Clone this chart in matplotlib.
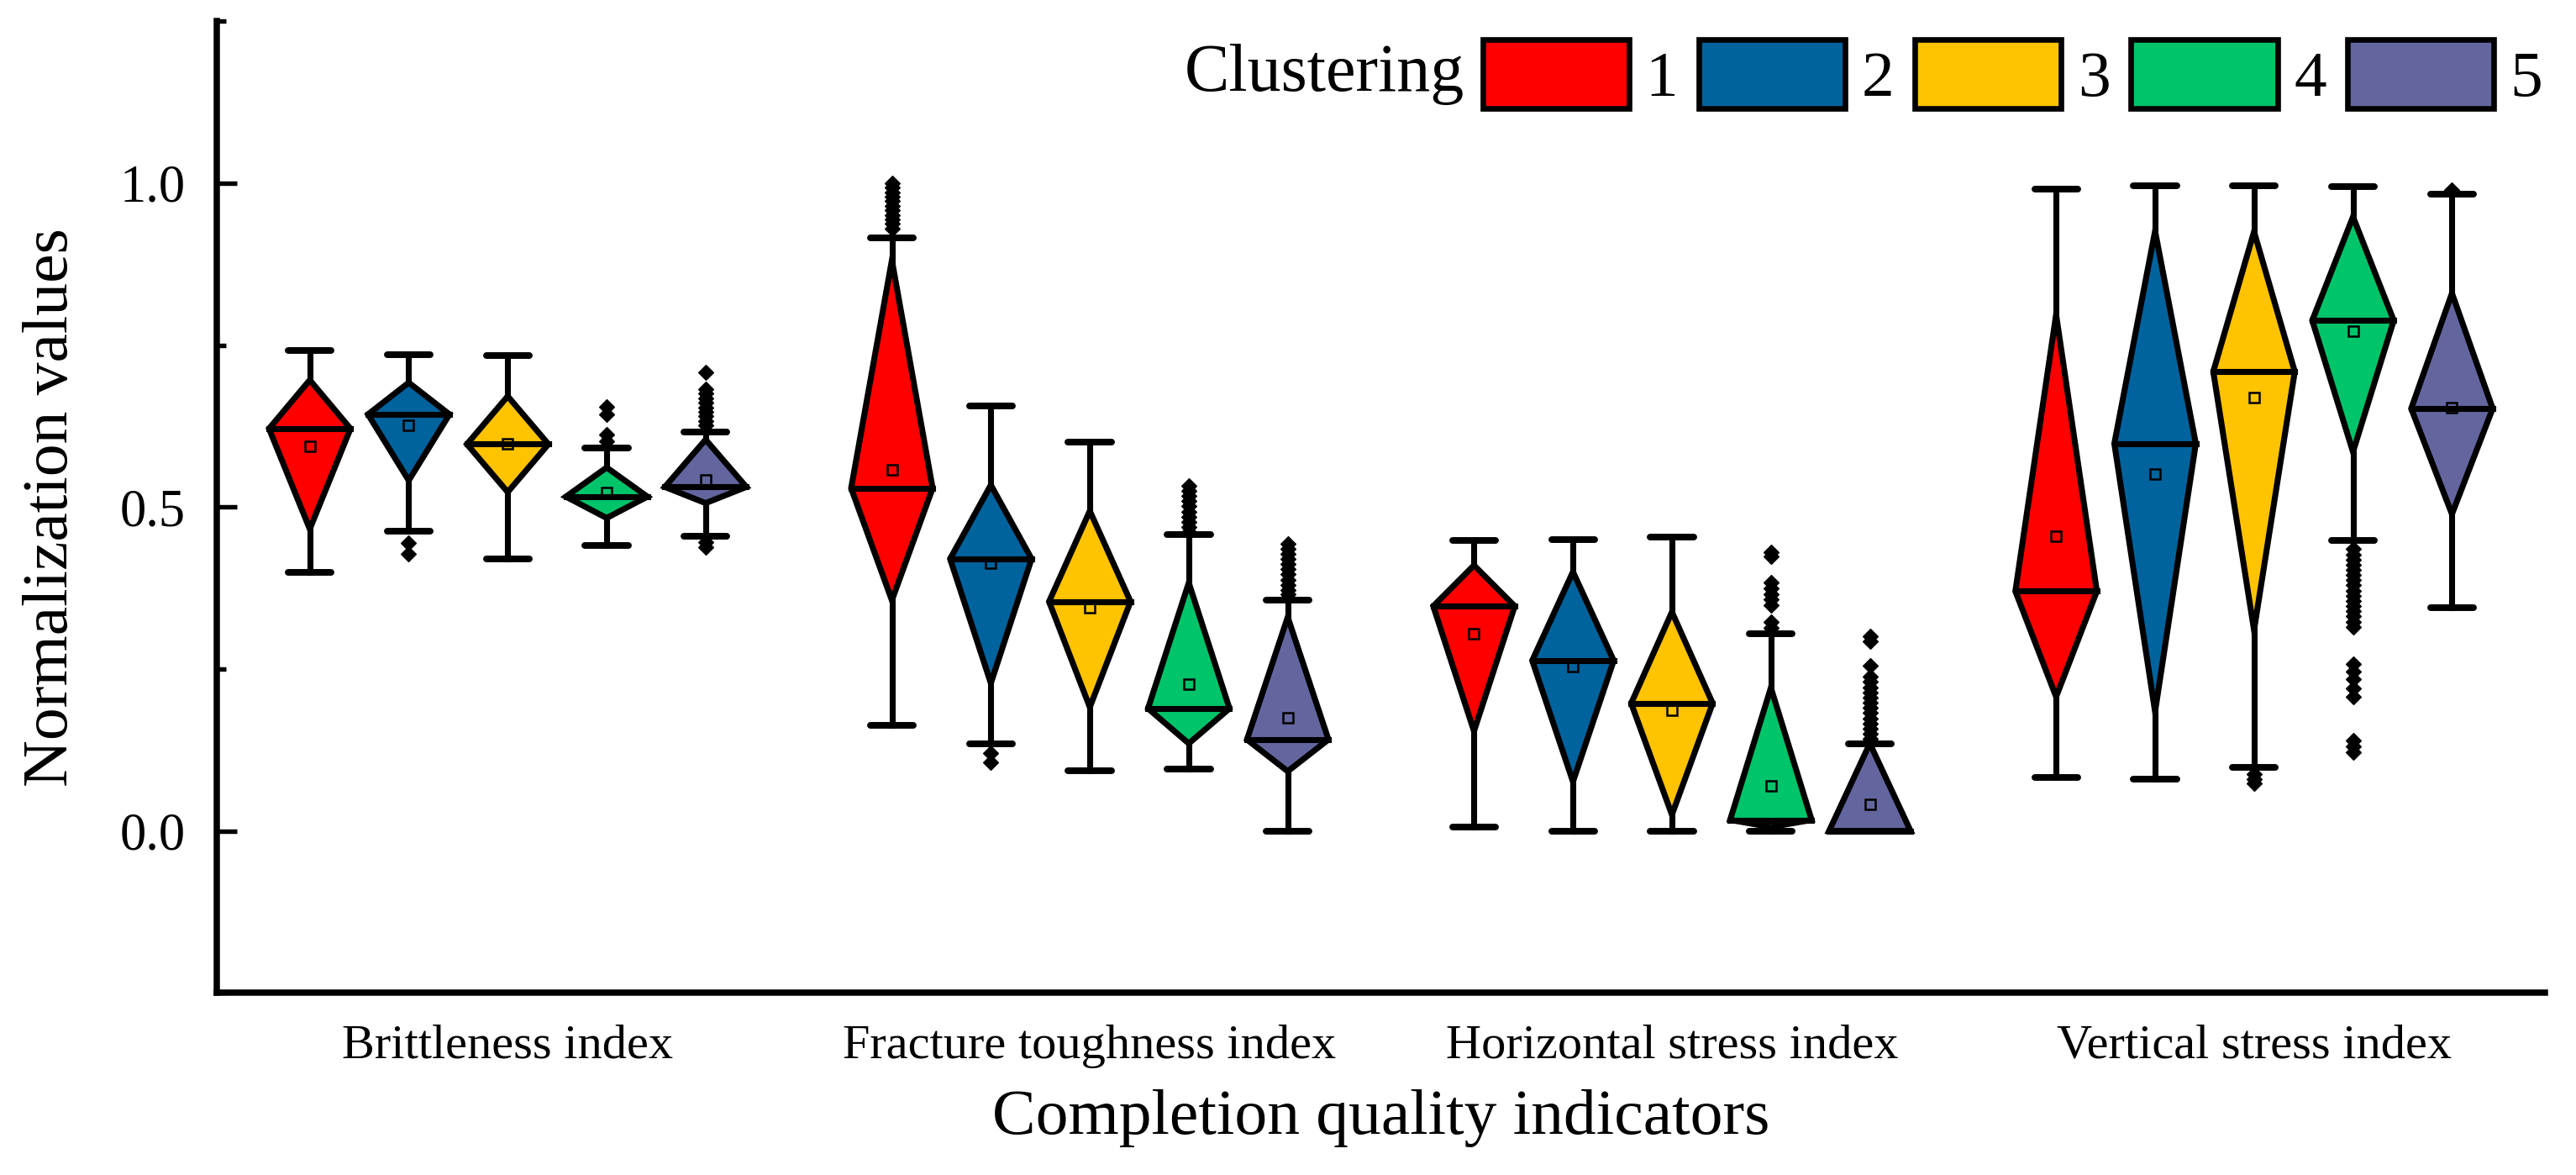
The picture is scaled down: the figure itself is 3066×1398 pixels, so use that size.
import numpy as np
import matplotlib
matplotlib.use('Agg')
import matplotlib.pyplot as plt
from matplotlib.patches import Polygon, Patch
from matplotlib.ticker import MultipleLocator

plt.rcParams['font.family'] = ['Liberation Serif', 'DejaVu Serif']

# categories / groups
indicators = ['Brittleness index', 'Fracture toughness index',
              'Horizontal stress index', 'Vertical stress index']
clusters = ['1', '2', '3', '4', '5']
colors = ['#FF0000', '#00639E', '#FFC300', '#00C46A', '#63669E']

# box statistics, one row per indicator, one column per cluster
whislo = [[0.399, 0.463, 0.420, 0.441, 0.455],
          [0.163, 0.135, 0.093, 0.095, 0.000],
          [0.006, 0.000, 0.000, 0.000, 0.000],
          [0.083, 0.080, 0.098, 0.448, 0.344]]
q1 = [[0.466, 0.541, 0.523, 0.483, 0.506],
      [0.356, 0.228, 0.191, 0.135, 0.092],
      [0.154, 0.076, 0.025, 0.006, 0.000],
      [0.207, 0.184, 0.310, 0.585, 0.489]]
med = [[0.621, 0.643, 0.597, 0.516, 0.531],
       [0.529, 0.420, 0.354, 0.189, 0.141],
       [0.347, 0.263, 0.197, 0.017, 0.000],
       [0.370, 0.598, 0.709, 0.788, 0.652]]
q3 = [[0.696, 0.692, 0.671, 0.561, 0.604],
      [0.881, 0.534, 0.494, 0.383, 0.330],
      [0.410, 0.400, 0.338, 0.221, 0.135],
      [0.797, 0.926, 0.925, 0.948, 0.830]]
whishi = [[0.742, 0.735, 0.734, 0.591, 0.616],
          [0.916, 0.656, 0.600, 0.457, 0.356],
          [0.449, 0.450, 0.454, 0.304, 0.134],
          [0.991, 0.996, 0.996, 0.995, 0.983]]
means = [[0.594, 0.626, 0.598, 0.523, 0.542],
         [0.558, 0.413, 0.345, 0.226, 0.175],
         [0.305, 0.254, 0.186, 0.069, 0.041],
         [0.455, 0.551, 0.669, 0.771, 0.654]]

# outliers
out_brittle = [[],
               [0.445, 0.428],
               [],
               [0.655, 0.643, 0.612, 0.601],
               [0.708, 0.682, 0.675, 0.668, 0.661, 0.654, 0.647, 0.640, 0.633, 0.626,
                0.446, 0.438]]
out_fracture = [[1.000, 0.993, 0.986, 0.979, 0.972, 0.965, 0.958, 0.951, 0.944, 0.937, 0.930],
                [0.120, 0.106],
                [],
                [0.533, 0.525, 0.517, 0.509, 0.501, 0.493, 0.485, 0.477, 0.469, 0.462],
                [0.443, 0.436, 0.428, 0.420, 0.412, 0.404, 0.396, 0.388, 0.380, 0.372, 0.366]]
out_horizontal = [[],
                  [],
                  [],
                  [0.430, 0.424, 0.383, 0.374, 0.366, 0.358, 0.348, 0.322, 0.313],
                  [0.300, 0.293, 0.255, 0.238, 0.230, 0.222, 0.214, 0.206, 0.198, 0.190,
                   0.182, 0.174, 0.166, 0.158, 0.150, 0.142]]
out_vertical = [[],
                [],
                [0.088, 0.080, 0.074],
                [0.435, 0.427, 0.419, 0.411, 0.403, 0.395, 0.387, 0.379, 0.371, 0.363,
                 0.355, 0.347, 0.339, 0.331, 0.323, 0.315,
                 0.258, 0.246, 0.234, 0.220, 0.207,
                 0.140, 0.131, 0.122],
                [0.990]]
outliers = [out_brittle, out_fracture, out_horizontal, out_vertical]

fig = plt.figure(figsize=(10.22, 4.66), dpi=300)
ax = fig.add_axes([0.0841, 0.155, 0.9039, 0.827])

step = 0.17   # spacing between clusters inside a group
bw = 0.070    # half width of diamond
cw = 0.037    # half width of whisker cap
lw = 1.7

for i in range(len(indicators)):
    for j in range(len(clusters)):
        x = i + 1 + (j - 2) * step
        # whiskers
        ax.plot([x, x], [q3[i][j], whishi[i][j]], color='k', lw=lw, zorder=2)
        ax.plot([x, x], [whislo[i][j], q1[i][j]], color='k', lw=lw, zorder=2)
        for w in (whislo[i][j], whishi[i][j]):
            ax.plot([x - cw, x + cw], [w, w], color='k', lw=1.9,
                    solid_capstyle='round', zorder=2)
        # diamond box
        dia = Polygon([[x, q1[i][j]], [x + bw, med[i][j]], [x, q3[i][j]], [x - bw, med[i][j]]],
                      closed=True, facecolor=colors[j], edgecolor='k', lw=lw,
                      joinstyle='miter', zorder=3)
        ax.add_patch(dia)
        ax.plot([x - bw, x + bw], [med[i][j], med[i][j]], color='k', lw=lw, zorder=4)
        # mean
        ax.plot(x, means[i][j], 's', mfc='none', mec='k', ms=2.7, mew=0.6, zorder=5)
        # outliers
        o = outliers[i][j]
        if len(o) > 0:
            ax.plot([x] * len(o), o, 'D', color='k', ms=2.9, mew=0.3, zorder=4)

ax.set_xlim(0.5, 4.5)
ax.set_ylim(-0.25, 1.25)
ax.set_xticks(range(1, 5))
ax.set_xticklabels(indicators, fontsize=14)
ax.set_yticks([0.0, 0.5, 1.0])
ax.set_yticklabels(['0.0', '0.5', '1.0'], fontsize=15)
ax.yaxis.set_minor_locator(MultipleLocator(0.25))
ax.tick_params(axis='x', length=0, pad=9)
ax.tick_params(axis='y', which='major', direction='in', length=5.8, width=1.3, pad=9)
ax.tick_params(axis='y', which='minor', direction='in', length=2.6, width=1.3)
for s in ['top', 'right']:
    ax.spines[s].set_visible(False)
for s in ['left', 'bottom']:
    ax.spines[s].set_linewidth(1.8)

ax.set_xlabel('Completion quality indicators', fontsize=18.6, labelpad=6)
ax.set_ylabel('Normalization values', fontsize=18.6, labelpad=11)

handles = [Patch(facecolor=c, edgecolor='k', lw=1.6) for c in colors]
leg = fig.legend(handles, clusters, loc='center right', bbox_to_anchor=(0.987, 0.937),
                 ncol=5, frameon=False, fontsize=18.6, handlelength=2.25, handleheight=1.25,
                 handletextpad=0.25, columnspacing=0.32, borderpad=0, borderaxespad=0)

fig.canvas.draw()
bb = leg.get_window_extent()
fig.text((bb.x0 - 22) / fig.bbox.width, 0.937, 'Clustering', fontsize=19.2,
         ha='right', va='center')

fig.savefig('out.png', dpi=300)
